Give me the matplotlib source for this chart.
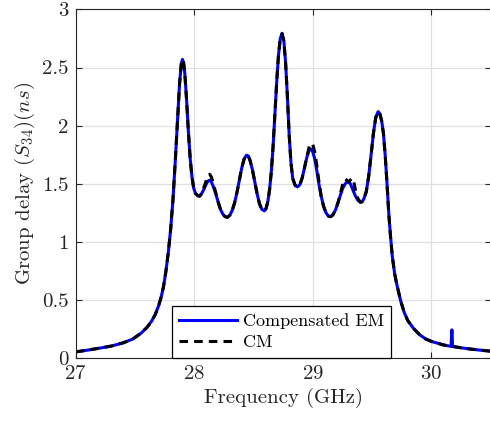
import matplotlib
matplotlib.use('Agg')
import matplotlib.pyplot as plt

# frequency grid (GHz) and group delay (ns)
freq = [27.00, 27.10, 27.20, 27.30, 27.40, 27.48, 27.55, 27.60, 27.64, 27.67,
        27.70, 27.72, 27.74, 27.76, 27.78, 27.80, 27.82, 27.84, 27.86, 27.875,
        27.89, 27.90, 27.91, 27.92, 27.935, 27.95, 27.965, 27.98, 27.995, 28.01,
        28.03, 28.045, 28.06, 28.08, 28.10, 28.115, 28.13, 28.145, 28.16, 28.18,
        28.20, 28.22, 28.24, 28.26, 28.28, 28.30, 28.32, 28.34, 28.36, 28.38,
        28.40, 28.42, 28.44, 28.455, 28.47, 28.49, 28.51, 28.53, 28.55, 28.57,
        28.59, 28.605, 28.62, 28.635, 28.65, 28.665, 28.68, 28.695, 28.71, 28.725,
        28.74, 28.755, 28.77, 28.785, 28.80, 28.815, 28.83, 28.85, 28.87, 28.89,
        28.91, 28.93, 28.95, 28.97, 28.985, 29.00, 29.015, 29.03, 29.05, 29.07,
        29.09, 29.11, 29.13, 29.15, 29.17, 29.19, 29.21, 29.23, 29.25, 29.27,
        29.285, 29.30, 29.315, 29.33, 29.345, 29.36, 29.38, 29.40, 29.415, 29.43,
        29.45, 29.47, 29.49, 29.51, 29.53, 29.55, 29.565, 29.58, 29.595, 29.61,
        29.625, 29.64, 29.655, 29.67, 29.69, 29.71, 29.74, 29.77, 29.80, 29.85,
        29.90, 29.95, 30.00, 30.05, 30.10, 30.14, 30.165, 30.172, 30.178, 30.20,
        30.25, 30.30, 30.35, 30.40, 30.45, 30.50]

em = [0.050, 0.065, 0.082, 0.100, 0.128, 0.160, 0.210, 0.260, 0.315, 0.370,
      0.450, 0.520, 0.610, 0.740, 0.900, 1.100, 1.360, 1.700, 2.080, 2.350,
      2.530, 2.570, 2.540, 2.450, 2.220, 1.950, 1.720, 1.560, 1.460, 1.415,
      1.395, 1.392, 1.410, 1.450, 1.495, 1.522, 1.530, 1.512, 1.475, 1.415,
      1.345, 1.280, 1.238, 1.215, 1.210, 1.228, 1.270, 1.335, 1.425, 1.530,
      1.635, 1.712, 1.745, 1.738, 1.700, 1.620, 1.515, 1.410, 1.325, 1.278,
      1.265, 1.285, 1.345, 1.450, 1.610, 1.830, 2.100, 2.380, 2.610, 2.750,
      2.795, 2.730, 2.540, 2.250, 1.920, 1.680, 1.545, 1.485, 1.472, 1.490,
      1.550, 1.640, 1.730, 1.793, 1.798, 1.770, 1.715, 1.630, 1.500, 1.390,
      1.305, 1.250, 1.220, 1.215, 1.232, 1.272, 1.330, 1.395, 1.455, 1.495,
      1.512, 1.515, 1.500, 1.465, 1.425, 1.390, 1.355, 1.340, 1.343, 1.370,
      1.430, 1.560, 1.740, 1.930, 2.070, 2.120, 2.100, 2.040, 1.930, 1.740,
      1.500, 1.240, 1.040, 0.870, 0.720, 0.620, 0.490, 0.390, 0.320, 0.250,
      0.198, 0.162, 0.140, 0.125, 0.110, 0.102, 0.098, 0.240, 0.097, 0.093,
      0.085, 0.078, 0.072, 0.066, 0.061, 0.056]

cm = [0.050, 0.065, 0.082, 0.100, 0.128, 0.160, 0.210, 0.260, 0.315, 0.370,
      0.450, 0.520, 0.610, 0.740, 0.900, 1.100, 1.360, 1.700, 2.080, 2.350,
      2.530, 2.570, 2.540, 2.450, 2.220, 1.950, 1.720, 1.560, 1.460, 1.415,
      1.395, 1.392, 1.415, 1.465, 1.525, 1.565, 1.580, 1.555, 1.500, 1.425,
      1.345, 1.280, 1.238, 1.215, 1.210, 1.228, 1.270, 1.335, 1.425, 1.530,
      1.635, 1.712, 1.745, 1.738, 1.700, 1.620, 1.515, 1.410, 1.325, 1.278,
      1.265, 1.285, 1.345, 1.450, 1.610, 1.830, 2.100, 2.380, 2.610, 2.750,
      2.790, 2.730, 2.540, 2.250, 1.920, 1.680, 1.545, 1.485, 1.472, 1.490,
      1.550, 1.640, 1.735, 1.825, 1.848, 1.835, 1.775, 1.680, 1.525, 1.390,
      1.305, 1.250, 1.220, 1.215, 1.232, 1.272, 1.330, 1.405, 1.490, 1.540,
      1.530, 1.512, 1.530, 1.548, 1.515, 1.440, 1.370, 1.340, 1.343, 1.370,
      1.430, 1.560, 1.740, 1.930, 2.070, 2.120, 2.100, 2.040, 1.930, 1.740,
      1.500, 1.240, 1.040, 0.870, 0.720, 0.620, 0.490, 0.390, 0.320, 0.250,
      0.198, 0.162, 0.140, 0.125, 0.110, 0.102, 0.098, 0.098, 0.097, 0.093,
      0.085, 0.078, 0.072, 0.066, 0.061, 0.056]

plt.rcParams['font.family'] = 'cmr10'
plt.rcParams['mathtext.fontset'] = 'cm'
plt.rcParams['axes.formatter.use_mathtext'] = True

fig = plt.figure(figsize=(4.9, 4.24), dpi=100)
ax = fig.add_axes([0.1545, 0.1564, 0.8471, 0.8212])

ax.plot(freq, em, color=(0, 0, 1), linewidth=2.2, label='Compensated EM')
ax.plot(freq, cm, color='k', linewidth=2.2, linestyle=(0, (2.8, 2.0)), label='CM')

ax.set_xlim(27, 30.5)
ax.set_ylim(0, 3)
ax.set_xticks([27, 28, 29, 30])
ax.set_yticks([0, 0.5, 1, 1.5, 2, 2.5, 3])
ax.set_yticklabels(['0', '0.5', '1', '1.5', '2', '2.5', '3'])
ax.grid(True, color=(0.88, 0.88, 0.88), linewidth=0.9)
ax.set_axisbelow(True)
ax.tick_params(direction='in', top=True, right=True, length=4, width=0.8,
               labelsize=15, colors=(0.15, 0.15, 0.15), pad=5)
for s in ax.spines.values():
    s.set_color((0.15, 0.15, 0.15))
    s.set_linewidth(0.8)

ax.set_xlabel('Frequency (GHz)', fontsize=15, color=(0.15, 0.15, 0.15))
ax.set_ylabel(r'Group delay $(S_{34})(ns)$', fontsize=15, color=(0.15, 0.15, 0.15))

leg = ax.legend(loc='lower center', bbox_to_anchor=(0.496, 0.0), fontsize=13,
                handlelength=3.2, handletextpad=0.3, borderpad=0.4,
                labelspacing=0.3, borderaxespad=0, fancybox=False, framealpha=1)
leg.get_frame().set_edgecolor('k')
leg.get_frame().set_linewidth(0.9)

fig.savefig('out.png', dpi=100)
